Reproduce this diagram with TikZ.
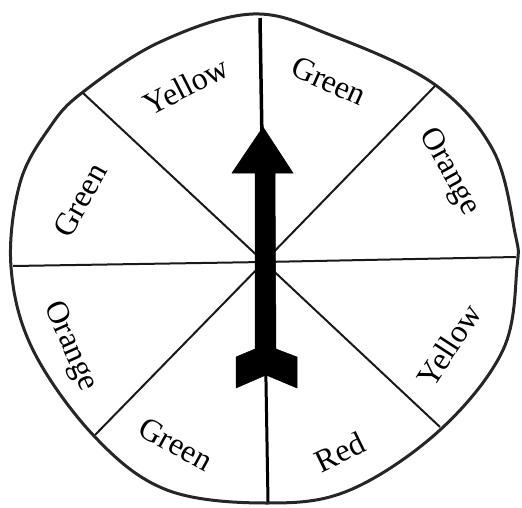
\documentclass[tikz,border=0pt]{standalone}
\usepackage{fontspec}
\setmainfont{Liberation Serif}
\begin{document}
\begin{tikzpicture}[x=1pt,y=-1pt,
  spoke/.style={line width=2pt,black!90},
  rim/.style={line width=3pt,black!85,line join=round},
  lbl/.style={font=\fontsize{32}{38}\selectfont,inner sep=0pt},
  pointer/.style={fill=black,draw=black,line width=0.5pt,line join=miter}]
\useasboundingbox (0,0) rectangle (522,508);
% rim
\draw[rim] plot[smooth cycle,tension=0.6] coordinates{
 (253,14) (333,36) (434,84) (493,150) (515,233) (517,267) (503,350)
 (440,430) (350,490) (267,503) (167,490) (95,437) (33,350) (11,267)
 (20,183) (50,127) (83,92) (160,42)};
% spoke ends and centre
\coordinate (c) at (264,262);
\coordinate (t) at (260,18);
\coordinate (b) at (268,502);
\coordinate (ul) at (83,93);
\coordinate (ur) at (435,86);
\coordinate (l) at (13,266);
\coordinate (r) at (516,257);
\coordinate (ll) at (95,435);
\coordinate (lr) at (440,427);
\draw[spoke] (ul) -- (c) -- (lr);
\draw[spoke] (ur) -- (c) -- (ll);
\draw[spoke] (l) -- (c) -- (r);
\draw[line width=3.5pt] (t) -- (c);
\draw[line width=3pt] (c) -- (b);
% pointer
\filldraw[pointer] (263,127) -- (293,173) -- (275,173) -- (276,349)
 -- (297,357) -- (297,388) -- (266,375) -- (236,388) -- (236,357)
 -- (255,349) -- (255,173) -- (232,173) -- cycle;
% labels
\node[lbl,rotate=27] (y1) at (186,86) {Yellow};
\node[lbl,rotate=-24] (g1) at (329,81) {Green};
\node[lbl,rotate=-61] (o1) at (449,172) {Orange};
\node[lbl,rotate=57] (y2) at (449,345) {Yellow};
\node[lbl,rotate=26] (r1) at (340,452) {Red};
\node[lbl,rotate=-29] (g2) at (176,444) {Green};
\node[lbl,rotate=-66] (o2) at (70,347) {Orange};
\node[lbl,rotate=61] (g3) at (80,200) {Green};
\end{tikzpicture}
\end{document}
